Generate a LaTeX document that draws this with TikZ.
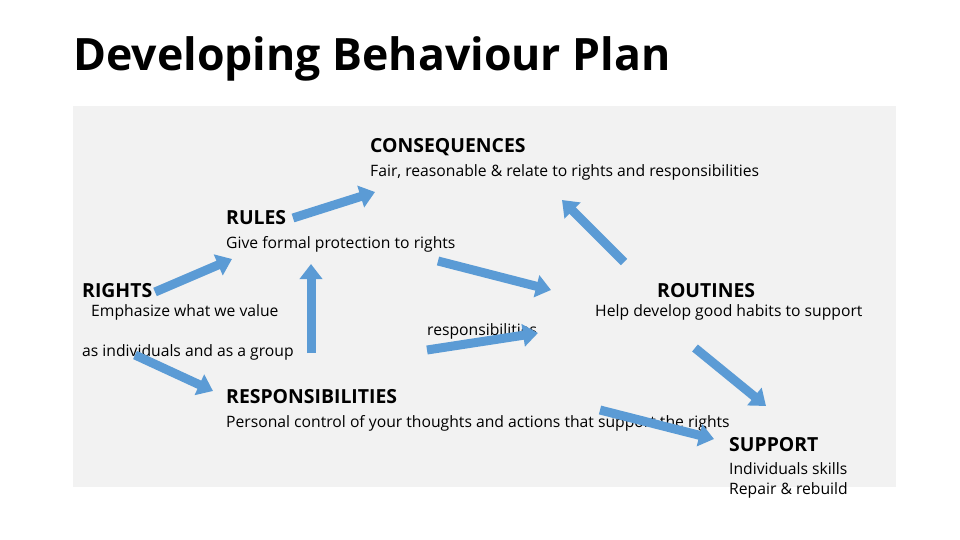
\documentclass[tikz,border=0pt]{standalone}
\usepackage{fontspec}
\setmainfont{Open Sans}
\usetikzlibrary{arrows.meta}
\definecolor{ab}{HTML}{5B9BD5}
\definecolor{abd}{HTML}{41719C}
\begin{document}
\begin{tikzpicture}[x=1pt,y=-1pt,
  txt/.style={anchor=base west,inner sep=0pt,font=\fontsize{15.7}{18}\selectfont},
  hd/.style={anchor=base west,inner sep=0pt,font=\fontsize{19.4}{22}\selectfont\bfseries},
  fat/.style={draw=ab,line width=9pt,-{Triangle[length=15pt,width=22pt]}}]
\useasboundingbox (0,0) rectangle (960,540);
\fill[white] (0,0) rectangle (960,540);
\fill[black!5] (73,106) rectangle (896,487);
\node[anchor=base west,inner sep=0pt,font=\fontsize{44.6}{50}\selectfont\bfseries] (title) at (73,71) {Developing Behaviour Plan};
\node[hd] (cons) at (370,153) {CONSEQUENCES};
\node[txt] (consd) at (370,176) {Fair, reasonable \& relate to rights and responsibilities};
\node[hd] (rules) at (226,224) {RULES};
\node[txt] (rulesd) at (226,248) {Give formal protection to rights};
\node[hd] (rights) at (82,297) {RIGHTS};
\node[txt] (rightsd) at (91,316) {Emphasize what we value};
\node[txt] (rightse) at (82,356) {as individuals and as a group};
\node[txt] (resp) at (427,335) {responsibilities};
\node[hd] (rout) at (657,297) {ROUTINES};
\node[txt] (routd) at (595,316) {Help develop good habits to support};
\node[hd] (respb) at (226,403) {RESPONSIBILITIES};
\node[txt] (respd) at (226,427) {Personal control of your thoughts and actions that support the rights};
\node[hd] (sup) at (729,451) {SUPPORT};
\node[txt] (supa) at (729,474) {Individuals skills};
\node[txt] (supb) at (729,494) {Repair \& rebuild};
\foreach \n/\ax/\ay/\bx/\by in {a/155/292/232/259, b/293/218/375/192, c/311/353/311/264,
  d/135/355/213/391, e/438/261/551/290, f/624/262/562/200, g/427/350/538/333,
  h/695/348/766/406, i/600/410/714/439}{
  \coordinate (\n1) at (\ax,\ay); \coordinate (\n2) at (\bx,\by);
  \draw[fat] (\n1) -- (\n2);}
\end{tikzpicture}
\end{document}
